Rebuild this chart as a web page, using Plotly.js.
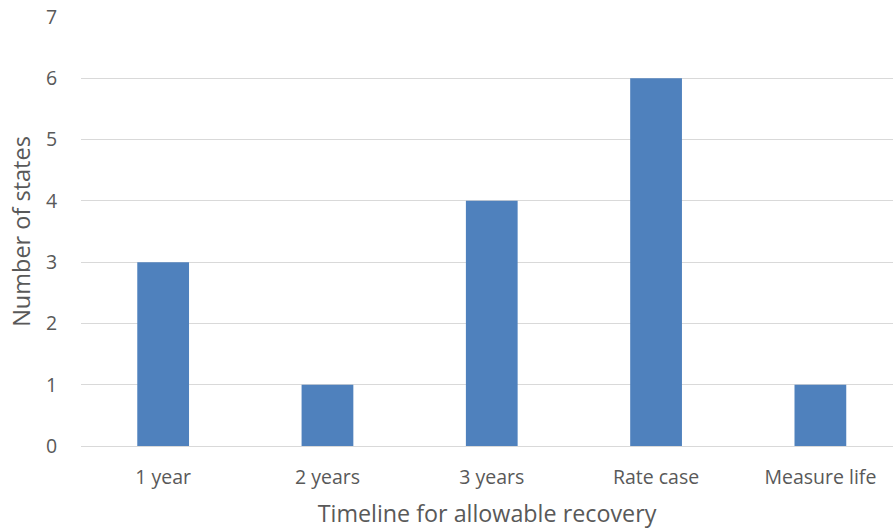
<!DOCTYPE html>
<html>
<head>
<meta charset="utf-8">
<script src="https://cdn.plot.ly/plotly-3.0.1.min.js"></script>
<style>
  html, body { margin: 0; padding: 0; background: #fff; }
  #chart { width: 893px; height: 529px; }
</style>
</head>
<body>
<div id="chart"></div>
<script>
// Recovery timelines and how many states use each
const categories = ["1 year", "2 years", "3 years", "Rate case", "Measure life"];
const stateCounts = [3, 1, 4, 6, 1];
const yTicks = [0, 1, 2, 3, 4, 5, 6, 7];

const textColor = "#595959";
const fontFamily = "'Open Sans', 'Liberation Sans', sans-serif";

const trace = {
  type: "bar",
  x: categories,
  y: stateCounts,
  marker: { color: "#4f81bd", line: { width: 0 } },
  hoverinfo: "x+y"
};

const layout = {
  width: 893,
  height: 529,
  margin: { l: 81, r: 0, t: 17, b: 83 },
  paper_bgcolor: "#ffffff",
  plot_bgcolor: "#ffffff",
  bargap: 0.685,
  showlegend: false,
  font: { family: fontFamily, color: textColor, size: 20 },
  xaxis: {
    type: "category",
    range: [-0.5, 4.442],
    showgrid: false,
    zeroline: false,
    showline: false,
    ticks: "outside",
    ticklen: 14,
    tickcolor: "rgba(0,0,0,0)",
    tickfont: { size: 19.5, color: textColor },
    title: { text: "Timeline for allowable recovery", font: { size: 23.3, color: textColor }, standoff: 17 },
    automargin: false
  },
  yaxis: {
    range: [0, 7],
    tickvals: yTicks,
    ticktext: yTicks.map(String),
    showgrid: true,
    gridcolor: "#d9d9d9",
    gridwidth: 1,
    zeroline: true,
    zerolinecolor: "#d9d9d9",
    zerolinewidth: 1,
    showline: false,
    ticks: "outside",
    ticklen: 19,
    tickcolor: "rgba(0,0,0,0)",
    tickfont: { size: 19.5, color: textColor },
    title: { text: "Number of states", font: { size: 23.5, color: textColor }, standoff: 8 },
    automargin: false
  }
};

Plotly.newPlot("chart", [trace], layout, { displayModeBar: false, staticPlot: true });
</script>
</body>
</html>
